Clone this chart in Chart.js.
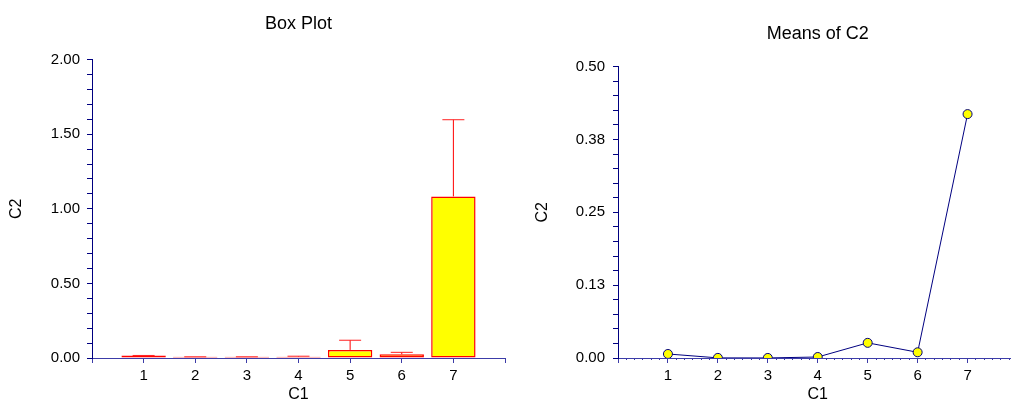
<!DOCTYPE html>
<html>
<head>
<meta charset="utf-8">
<script src="https://cdn.jsdelivr.net/npm/chart.js@4/dist/chart.umd.min.js"></script>
<style>
    html, body { margin: 0; padding: 0; background: #fff; overflow: hidden; width: 1011px; height: 403px; }
    .wrap { position: absolute; top: 0; height: 403px; }
    #box-wrap { left: 0; width: 509px; }
    #means-wrap { left: 505px; width: 518px; }
</style>
</head>
<body>
<div class="wrap" id="box-wrap"><canvas id="boxChart"></canvas></div>
<div class="wrap" id="means-wrap"><canvas id="meansChart"></canvas></div>
<script>
// --- Data ---
const groups = [1, 2, 3, 4, 5, 6, 7];
const boxLow = [0, 0, 0, 0, 0, 0, 0];
const boxHigh = [0.017, 0.008, 0.008, 0.009, 0.054, 0.025, 1.083];
const whiskerHigh = [0.017, 0.008, 0.008, 0.012, 0.119, 0.038, 1.597];
const means = [0.0069, 0.0002, 0.0001, 0.0017, 0.026, 0.0098, 0.4185];

const FONT = 'Arial, "Liberation Sans", sans-serif';
const NAVY = '#000080';
const AXIS_BLUE = '#3c3ca8';

// whisker segments: box top -> upper value, gap between groups
const whiskerPoints = [];
groups.forEach((g, i) => {
    whiskerPoints.push({ x: g, y: boxHigh[i] });
    whiskerPoints.push({ x: g, y: whiskerHigh[i] });
    whiskerPoints.push({ x: g, y: null });
});

const titleOpts = (text, top, bottom) => ({
    display: true,
    text: text,
    fullSize: false,
    color: '#000',
    font: { family: FONT, size: 18, weight: 'normal', lineHeight: 1.2 },
    padding: { top: top, bottom: bottom }
});

const xAxis = () => ({
    type: 'linear',
    min: 0,
    max: 8,
    offset: false,
    afterFit: (scale) => { scale.height = 45; },
    border: { display: true, color: AXIS_BLUE, width: 1 },
    grid: { drawOnChartArea: false, drawTicks: true, tickLength: 5, color: AXIS_BLUE, offset: false },
    ticks: {
        stepSize: 1,
        autoSkip: false,
        maxRotation: 0,
        padding: 4,
        color: '#000',
        font: { family: FONT, size: 15, lineHeight: 1.2 },
        callback: (v) => (v >= 1 && v <= 7) ? String(v) : ''
    },
    title: {
        display: true,
        text: 'C1',
        color: '#000',
        font: { family: FONT, size: 16, lineHeight: 1 },
        padding: { top: 0, bottom: 0 }
    }
});

const yAxis = (max, step, labelEvery, width, labelPad, titlePad, fmt) => ({
    type: 'linear',
    min: 0,
    max: max,
    afterFit: (scale) => { scale.width = width; },
    border: { display: true, color: NAVY, width: 1 },
    grid: { drawOnChartArea: false, drawTicks: true, tickLength: 5, color: NAVY },
    ticks: {
        stepSize: step,
        autoSkip: false,
        padding: labelPad,
        color: '#000',
        font: { family: FONT, size: 15 },
        callback: (v) => Math.round(v / step) % labelEvery === 0 ? fmt(v) : ''
    },
    title: {
        display: true,
        text: 'C2',
        color: '#000',
        font: { family: FONT, size: 16, lineHeight: 1 },
        padding: { top: titlePad, bottom: 0 }
    }
});

// --- Box plot ---
new Chart(document.getElementById('boxChart'), {
    type: 'bar',
    data: {
        datasets: [
            {
                type: 'line',
                data: whiskerPoints,
                borderColor: '#ff0000',
                borderWidth: 1,
                spanGaps: false,
                pointStyle: 'line',
                pointRadius: (ctx) => ctx.dataIndex % 3 === 1 ? 11 : 0,
                pointBorderColor: '#ff2020',
                pointBorderWidth: 1,
                pointHoverRadius: 0
            },
            {
                type: 'bar',
                data: groups.map((g, i) => ({ x: g, y: [boxLow[i], boxHigh[i]] })),
                backgroundColor: '#ffff00',
                borderColor: '#ff0000',
                borderWidth: 1.5,
                borderSkipped: false,
                barPercentage: 0.86,
                categoryPercentage: 1
            }
        ]
    },
    options: {
        responsive: true,
        maintainAspectRatio: false,
        animation: false,
        events: [],
        layout: { padding: 0 },
        plugins: {
            legend: { display: false },
            tooltip: { enabled: false },
            title: titleOpts('Box Plot', 13, 25)
        },
        scales: {
            x: xAxis(),
            y: yAxis(2, 0.1, 5, 92, 7, 9, (v) => v.toFixed(2))
        }
    }
});

// --- Means of C2 ---
new Chart(document.getElementById('meansChart'), {
    type: 'line',
    data: {
        datasets: [{
            data: groups.map((g, i) => ({ x: g, y: means[i] })),
            borderColor: NAVY,
            borderWidth: 1,
            pointRadius: 4.5,
            pointBackgroundColor: '#ffff00',
            pointBorderColor: NAVY,
            pointBorderWidth: 1,
            tension: 0
        }]
    },
    options: {
        responsive: true,
        maintainAspectRatio: false,
        animation: false,
        events: [],
        layout: { padding: 0 },
        plugins: {
            legend: { display: false },
            tooltip: { enabled: false },
            title: titleOpts('Means of C2', 23, 22)
        },
        scales: {
            x: xAxis(),
            // minor ticks along the x axis
            x2: {
                axis: 'x',
                type: 'linear',
                position: { y: 0 },
                min: 0,
                max: 8,
                border: { display: false },
                grid: { drawOnChartArea: false, drawTicks: true, tickLength: 2, color: AXIS_BLUE },
                ticks: { count: 49, display: false }
            },
            y: yAxis(0.5, 0.025, 5, 113, 8, 30, (v) => (Math.round(v * 8) / 8).toFixed(2))
        }
    }
});
</script>
</body>
</html>
